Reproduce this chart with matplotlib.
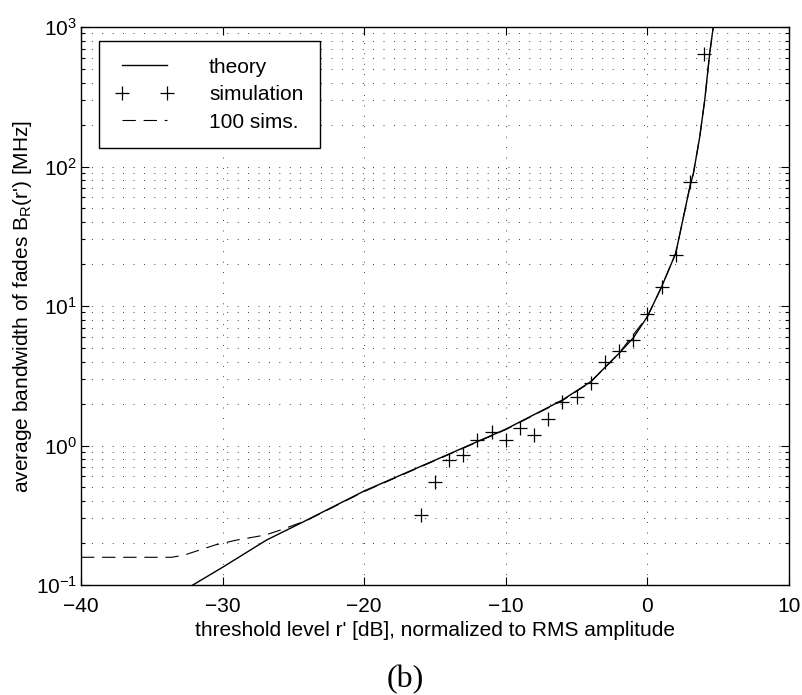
import matplotlib
matplotlib.use("Agg")
import matplotlib.pyplot as plt
from matplotlib.ticker import LogLocator, NullFormatter

plt.rcParams['font.family'] = ['Liberation Sans', 'DejaVu Sans']
plt.rcParams['mathtext.default'] = 'regular'
plt.rcParams['axes.unicode_minus'] = True

# theory curve
theory_x = [-32.1, -30.0, -26.9, -24.5, -20.0, -15.0, -10.0, -6.9, -6.0, -4.0,
            -2.0, -1.0, 0.0, 1.0, 2.0, 2.5, 3.0, 3.25, 3.7, 4.05, 4.4, 4.65]
theory_y = [0.100, 0.134, 0.210, 0.277, 0.472, 0.785, 1.31, 1.90, 2.12, 2.87,
            4.58, 5.90, 8.40, 13.7, 23.9, 41.3, 71.6, 89.4, 164.0, 300.0, 648.0, 1000.0]

# simulation points
sim_x = [-16, -15, -14, -13, -12, -11, -10, -9, -8, -7, -6, -5, -4, -3, -2, -1, 0, 1, 2, 3, 4]
sim_y = [0.32, 0.55, 0.79, 0.86, 1.09, 1.25, 1.09, 1.33, 1.19, 1.54, 2.04, 2.21,
         2.82, 3.99, 4.77, 5.75, 8.77, 13.6, 23.2, 77.0, 640.0]

# 100 simulations average
sims_x = [-40.0, -33.6, -32.7, -30.5, -29.0, -27.0, -26.0, -24.0, -20.0, -15.0,
          -10.0, -6.0, -4.0, -2.0, 0.0, 1.0, 2.0, 2.5, 3.0, 3.25, 3.7, 4.05, 4.4, 4.65]
sims_y = [0.158, 0.158, 0.164, 0.194, 0.210, 0.228, 0.246, 0.292, 0.468, 0.78,
          1.30, 2.10, 2.85, 4.60, 8.40, 13.7, 23.9, 41.3, 71.6, 89.4, 164.0, 300.0, 648.0, 1000.0]

x_ticks = [-40, -30, -20, -10, 0, 10]

FS = 15
fig = plt.figure(figsize=(8.03, 6.95), dpi=100)
ax = fig.add_axes([81/803, 1-585/695, 708/803, 558/695])

ax.plot(theory_x, theory_y, color='k', lw=1.0, label='theory')
ax.plot(sim_x, sim_y, linestyle='none', marker='+', color='k', ms=10, mew=0.9,
        label='simulation')
ax.plot(sims_x, sims_y, color='k', lw=0.8, dashes=(12, 7), label='100 sims.')

ax.set_yscale('log')
ax.set_xlim(-40, 10)
ax.set_ylim(0.1, 1000)
ax.set_xticks(x_ticks)
ax.yaxis.set_major_locator(LogLocator(base=10, numticks=10))
ax.yaxis.set_minor_locator(LogLocator(base=10, subs=range(2, 10), numticks=20))
ax.yaxis.set_minor_formatter(NullFormatter())

dot = (0, (1, 11.5))
ax.grid(which='major', axis='both', linestyle=dot, color='k', lw=0.6)
ax.grid(which='minor', axis='y', linestyle=dot, color='k', lw=0.6)

ax.tick_params(which='both', direction='in', top=True, right=True, labelsize=FS,
               width=0.8, color='k')
ax.tick_params(which='major', length=6)
ax.tick_params(which='minor', length=3)
ax.tick_params(axis='x', pad=8.5)
ax.tick_params(axis='y', pad=3)
for s in ax.spines.values():
    s.set_linewidth(1.0)

ax.set_xlabel("threshold level r' [dB], normalized to RMS amplitude", fontsize=FS, labelpad=4)
ax.set_ylabel("average bandwidth of fades B$_\\mathregular{R}$(r') [MHz]", fontsize=FS, labelpad=1)

leg = ax.legend(loc='upper left', bbox_to_anchor=(18/708, 1-14/558), borderaxespad=0,
                fontsize=FS, numpoints=2, handlelength=2.75, handletextpad=1.73,
                labelspacing=0.41, borderpad=0.8, fancybox=False, framealpha=1,
                edgecolor='k')
leg.get_frame().set_linewidth(1.0)

fig.text(405/803, 1-687/695, "(b)", ha='center', va='baseline', fontsize=23,
         family=['Liberation Serif', 'DejaVu Serif'])

fig.savefig('out.png', dpi=100)
